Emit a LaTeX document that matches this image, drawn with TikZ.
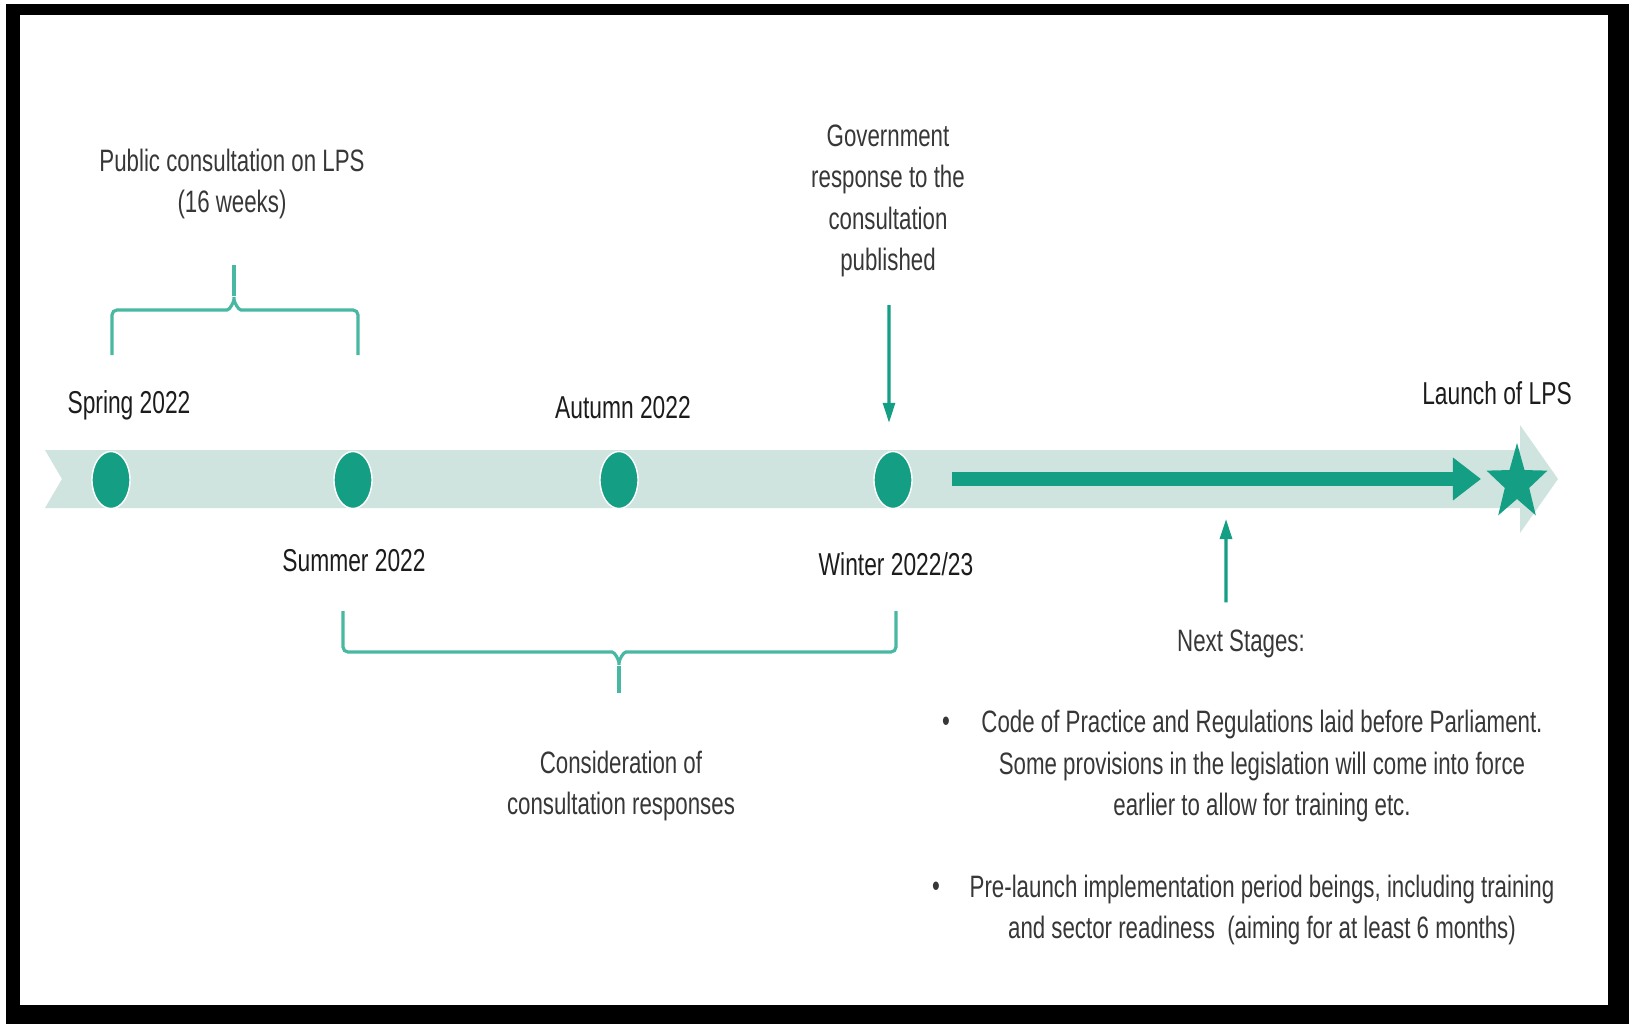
\documentclass[tikz,border=0pt]{standalone}
\usepackage{fontspec}
\setmainfont{Liberation Sans}[FakeStretch=0.72]
\usepackage{tikz}
\usetikzlibrary{arrows.meta}
\usetikzlibrary{positioning,shapes.geometric}
\definecolor{lpsteal}{RGB}{20,158,132}
\definecolor{lpsband}{RGB}{207,228,222}
\definecolor{lpsbrace}{RGB}{72,184,162}
\definecolor{lpstext}{RGB}{55,55,55}
\definecolor{lpsdate}{RGB}{28,28,28}
\tikzset{
    milestone/.style={
        ellipse,
        fill=lpsteal,
        draw=white,
        line width=0.4pt,
        minimum width=0.38cm,
        minimum height=0.57cm,
        inner sep=0pt
    },
    datelabel/.style={
        text=lpsdate,
        inner sep=0pt,
        font=\fontsize{9}{11.8}\selectfont
    },
    notetext/.style={
        text=lpstext,
        inner sep=0pt,
        align=center,
        font=\fontsize{8.8}{11.8}\selectfont
    },
    brace/.style={
        draw=lpsbrace,
        line width=0.9pt,
        rounded corners=0.05cm
    },
    pointer/.style={
        draw=lpsteal,
        line width=0.9pt,
        -{Triangle[length=0.2cm, width=0.12cm]}
    }
}

\begin{document}
\begin{tikzpicture}[x=0.01cm, y=-0.01cm]
  \useasboundingbox (0,0) rectangle (1629,1024);
  % Frame
  \fill[black] (6,4) rectangle (1629,1024);
  \fill[white] (20,15) rectangle (1608,1005);

  % Timeline band
  \fill[lpsband] (45,450) -- (1520,450) -- (1520,425) -- (1558,479)
    -- (1520,533) -- (1520,508) -- (45,508) -- (62,479) -- cycle;

  % Milestones
  \node[milestone] (spring) at (111,480) {};
  \node[milestone] (summer) at (353,480) {};
  \node[milestone] (autumn) at (619,480) {};
  \node[milestone] (winter) at (893,480) {};
  \begin{scope}[shift={(1517,483)}, xscale=0.8, transform shape]
    \node[star, star points=5, star point ratio=2.5, fill=lpsteal,
      minimum size=0.8cm, inner sep=0pt] (launch) at (0,0) {};
  \end{scope}

  % Date labels
  \node[datelabel] (springlabel) at (129,405) {Spring 2022};
  \node[datelabel] (summerlabel) at (354,561) {Summer 2022};
  \node[datelabel] (autumnlabel) at (623,408) {Autumn 2022};
  \node[datelabel] (winterlabel) at (896,564) {Winter 2022/23};
  \node[datelabel] (launchlabel) at (1497,393) {Launch of LPS};

  % Consultation brace
  \node[notetext] (publiccons) at (232,184) {Public consultation on LPS\\(16 weeks)};
  \draw[brace] (112,355) -- (112,310) -- (222,310) to[out=0,in=-90] (234,294)
    to[out=-90,in=180] (246,310) -- (358,310) -- (358,355);
  \draw[brace] (234,296) -- (234,265);

  % Consideration brace
  \draw[brace] (343,611) -- (343,652) -- (607,652) to[out=0,in=90] (619,668)
    to[out=90,in=180] (631,652) -- (896,652) -- (896,611);
  \draw[brace] (619,666) -- (619,693);
  \node[notetext] (consider) at (621,786) {Consideration of\\consultation responses};

  % Government response
  \node[notetext] (govresp) at (888,201) {Government\\response to the\\consultation\\published};
  \coordinate (govtail) at (889,305);
  \draw[pointer] (govtail) -- ([xshift=-0.04cm, yshift=0.28cm]winter.north);

  % Next stages
  \coordinate (nsstart) at (952,479);
  \coordinate (nsend) at (1481,479);
  \draw[lpsteal, line width=4pt, -{Triangle[length=0.28cm, width=0.41cm]}] (nsstart) -- (nsend);
  \node[notetext] (stages) at (1241,644) {Next Stages:};
  \coordinate (stagestip) at (1226,519);
  \draw[pointer] ([xshift=-0.15cm, yshift=0.27cm]stages.north) -- (stagestip);

  \node[notetext] (bulletone) at (946,724) {•};
  \node[notetext] (stepone) at (1262,766) {Code of Practice and Regulations laid before Parliament.\\Some provisions in the legislation will come into force\\earlier to allow for training etc.};
  \node[notetext] (bullettwo) at (936,889) {•};
  \node[notetext] (steptwo) at (1262,910) {Pre-launch implementation period beings, including training\\and sector readiness~ (aiming for at least 6 months)};
\end{tikzpicture}
\end{document}
